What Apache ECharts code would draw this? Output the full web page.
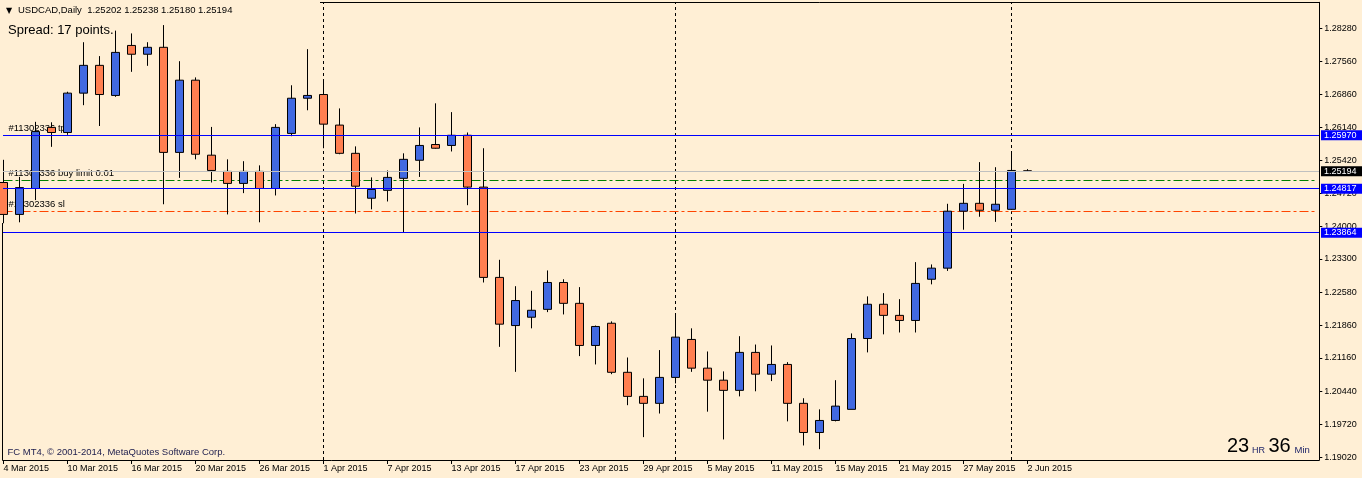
<!DOCTYPE html>
<html>
<head>
    <meta charset="utf-8">
    <title>USDCAD,Daily</title>
    <style type="text/css">
        html,
        body {
            margin: 0;
            padding: 0;
            background: #FFEFD5;
        }

        #main {
            width: 1362px;
            height: 478px;
        }
    </style>
</head>

<body>
    <div id="main"></div>
    <script src="https://cdn.jsdelivr.net/npm/echarts@6/dist/echarts.min.js"></script>
    <script type="text/javascript">
        var symbolName = 'USDCAD';
        var periodName = 'Daily';
        var spreadPoints = 17;
        var orderTicket = '11302336';
        var timerHours = '23';
        var timerMinutes = '36';

        var dates = [
            '4 Mar 2015', '5 Mar 2015', '6 Mar 2015', '9 Mar 2015', '10 Mar 2015', '11 Mar 2015', '12 Mar 2015', '13 Mar 2015',
            '16 Mar 2015', '17 Mar 2015', '18 Mar 2015', '19 Mar 2015', '20 Mar 2015', '23 Mar 2015', '24 Mar 2015', '25 Mar 2015',
            '26 Mar 2015', '27 Mar 2015', '30 Mar 2015', '31 Mar 2015', '1 Apr 2015', '2 Apr 2015', '3 Apr 2015', '6 Apr 2015',
            '7 Apr 2015', '8 Apr 2015', '9 Apr 2015', '10 Apr 2015', '13 Apr 2015', '14 Apr 2015', '15 Apr 2015', '16 Apr 2015',
            '17 Apr 2015', '20 Apr 2015', '21 Apr 2015', '22 Apr 2015', '23 Apr 2015', '24 Apr 2015', '27 Apr 2015', '28 Apr 2015',
            '29 Apr 2015', '30 Apr 2015', '1 May 2015', '4 May 2015', '5 May 2015', '6 May 2015', '7 May 2015', '8 May 2015',
            '11 May 2015', '12 May 2015', '13 May 2015', '14 May 2015', '15 May 2015', '18 May 2015', '19 May 2015', '20 May 2015',
            '21 May 2015', '22 May 2015', '25 May 2015', '26 May 2015', '27 May 2015', '28 May 2015', '29 May 2015', '1 Jun 2015',
            '2 Jun 2015'
        ];
        var opens = [
            1.2495, 1.2426, 1.2482, 1.2614, 1.2603, 1.2688, 1.2748, 1.2683,
            1.2791, 1.2772, 1.2787, 1.2560, 1.2716, 1.2554, 1.2519, 1.2493,
            1.2519, 1.2482, 1.2601, 1.2677, 1.2685, 1.2619, 1.2558, 1.2461,
            1.2478, 1.2504, 1.2543, 1.2577, 1.2575, 1.2597, 1.2485, 1.2290,
            1.2186, 1.2204, 1.2221, 1.2279, 1.2234, 1.2143, 1.2191, 1.2085,
            1.2033, 1.2018, 1.2074, 1.2156, 1.2094, 1.2068, 1.2046, 1.2128,
            1.2081, 1.2102, 1.2018, 1.1955, 1.1981, 1.2005, 1.2158, 1.2232,
            1.2208, 1.2197, 1.2286, 1.2310, 1.2433, 1.2450, 1.2435, 1.2437,
            1.25202
        ];
        var highs = [
            1.2544, 1.2507, 1.2626, 1.2625, 1.2691, 1.2798, 1.2768, 1.2823,
            1.2817, 1.2798, 1.2835, 1.2757, 1.2722, 1.2615, 1.2545, 1.2541,
            1.2532, 1.2621, 1.2705, 1.2783, 1.2716, 1.2655, 1.2573, 1.2506,
            1.2521, 1.2558, 1.2614, 1.2666, 1.2647, 1.2603, 1.2569, 1.2328,
            1.2271, 1.2261, 1.2305, 1.2286, 1.2269, 1.2186, 1.2195, 1.2117,
            1.2072, 1.2133, 1.2210, 1.2180, 1.2130, 1.2087, 1.2163, 1.2145,
            1.2143, 1.2107, 1.2029, 1.2005, 1.2068, 1.2169, 1.2249, 1.2256,
            1.2243, 1.2323, 1.2318, 1.2449, 1.2492, 1.2539, 1.2528, 1.2562,
            1.25238
        ];
        var lows = [
            1.2407, 1.2409, 1.2457, 1.2572, 1.2598, 1.2662, 1.2617, 1.2680,
            1.2734, 1.2747, 1.2448, 1.2505, 1.2545, 1.2495, 1.2426, 1.2472,
            1.2409, 1.2467, 1.2595, 1.2651, 1.2569, 1.2556, 1.2428, 1.2437,
            1.2454, 1.2387, 1.2507, 1.2568, 1.2562, 1.2446, 1.2279, 1.2140,
            1.2086, 1.2180, 1.2215, 1.2210, 1.2120, 1.2102, 1.2081, 1.2014,
            1.1945, 1.1996, 1.2061, 1.2086, 1.2000, 1.1940, 1.2033, 1.2044,
            1.2066, 1.1979, 1.1927, 1.1919, 1.1979, 1.2005, 1.2128, 1.2167,
            1.2171, 1.2171, 1.2275, 1.2304, 1.2393, 1.2421, 1.2410, 1.2436,
            1.25180
        ];
        var closes = [
            1.2426, 1.2484, 1.2605, 1.2603, 1.2688, 1.2748, 1.2685, 1.2776,
            1.2772, 1.2787, 1.2560, 1.2716, 1.2556, 1.2521, 1.2493, 1.2519,
            1.2482, 1.2614, 1.2677, 1.2683, 1.2621, 1.2558, 1.2487, 1.2480,
            1.2506, 1.2545, 1.2575, 1.2569, 1.2597, 1.2485, 1.2290, 1.2189,
            1.2240, 1.2219, 1.2279, 1.2234, 1.2143, 1.2184, 1.2085, 1.2033,
            1.2018, 1.2074, 1.2161, 1.2094, 1.2068, 1.2046, 1.2128, 1.2081,
            1.2102, 1.2018, 1.1955, 1.1981, 1.2012, 1.2158, 1.2232, 1.2208,
            1.2197, 1.2277, 1.2310, 1.2433, 1.2450, 1.2435, 1.2448, 1.2521,
            1.25194
        ];

        var priceTicks = [1.28280, 1.27560, 1.26860, 1.26140, 1.25420, 1.24720, 1.24000,
            1.23300, 1.22580, 1.21860, 1.21160, 1.20440, 1.19720, 1.19020];
        var hLines = [1.25970, 1.24817, 1.23864];
        var bidPrice = 1.25194;
        var tpPrice = 1.25970;
        var limitPrice = 1.25000;
        var slPrice = 1.24330;
        var separatorDates = ['1 Apr 2015', '1 May 2015', '1 Jun 2015'];

        // empty future slots on the right side of the chart
        var futureSlots = 18;

        var categories = dates.slice();
        for (var i = 0; i < futureSlots; i++) categories.push('_' + i);

        var candles = dates.map(function (d, i) {
            return [opens[i], closes[i], lows[i], highs[i]];
        });

        var last = dates.length - 1;
        var headerText = symbolName + ',' + periodName + '  ' +
            [opens[last], highs[last], lows[last], closes[last]].map(function (v) { return v.toFixed(5); }).join(' ');

        function showDate(index) {
            return index % 4 === 0 && index < dates.length;
        }

        function priceLabel(p) {
            return Number(p.value).toFixed(5);
        }

        var FONT = '"Liberation Sans", Arial, sans-serif';
        var CLEAR = 'rgba(0,0,0,0)';

        var myChart = echarts.init(document.getElementById('main'));
        myChart.setOption({
            backgroundColor: '#FFEFD5',
            animation: false,
            textStyle: { fontFamily: FONT },
            grid: {
                left: 3.5,
                right: 46.5,
                top: 2.3,
                bottom: 18,
                show: false
            },
            xAxis: {
                type: 'category',
                data: categories,
                boundaryGap: false,
                axisLine: { show: false },
                axisTick: {
                    show: true,
                    length: 4,
                    interval: showDate,
                    lineStyle: { color: '#000' }
                },
                axisLabel: {
                    interval: showDate,
                    align: 'left',
                    margin: 4,
                    fontSize: 9,
                    color: '#000',
                    fontFamily: FONT
                },
                splitLine: { show: false }
            },
            yAxis: {
                type: 'value',
                position: 'right',
                min: 1.18956,
                max: 1.28842,
                offset: 3.8,
                axisLine: { show: true, lineStyle: { color: '#000' } },
                axisTick: {
                    show: true,
                    length: 3,
                    customValues: priceTicks,
                    lineStyle: { color: '#000' }
                },
                axisLabel: {
                    customValues: priceTicks,
                    margin: 5,
                    fontSize: 9,
                    color: '#000',
                    fontFamily: FONT,
                    formatter: function (v) { return v.toFixed(5); }
                },
                splitLine: { show: false }
            },
            series: [{
                // month separators and order lines, behind the candles
                type: 'line',
                data: [],
                markLine: {
                    z: 1,
                    silent: true,
                    precision: 5,
                    symbol: ['none', 'none'],
                    animation: false,
                    label: {
                        show: true,
                        position: 'insideStartTop',
                        distance: [5, 2],
                        color: '#000',
                        fontSize: 9.5,
                        fontFamily: FONT,
                        formatter: '{b}'
                    },
                    data: separatorDates.map(function (d) {
                        return {
                            xAxis: d,
                            lineStyle: { color: '#000', width: 1, type: [3, 3] },
                            label: { show: false }
                        };
                    }).concat([{
                        name: '#' + orderTicket + ' tp',
                        yAxis: tpPrice,
                        lineStyle: { color: CLEAR, width: 1 }
                    }, {
                        name: '#' + orderTicket + ' buy limit 0.01',
                        yAxis: limitPrice,
                        lineStyle: { color: '#008000', width: 1, type: [9, 3, 3, 3] }
                    }, {
                        name: '#' + orderTicket + ' sl',
                        yAxis: slPrice,
                        lineStyle: { color: '#FF4500', width: 1, type: [9, 3, 3, 3] }
                    }])
                }
            }, {
                type: 'candlestick',
                data: candles,
                barWidth: 9,
                z: 2,
                itemStyle: {
                    color: '#4169E1',
                    color0: '#FF7F50',
                    borderColor: '#000',
                    borderColor0: '#000',
                    borderColorDoji: '#000',
                    borderWidth: 1
                }
            }, {
                // price boxes on the axis for the horizontal lines
                type: 'line',
                data: [],
                markLine: {
                    z: 5,
                    silent: true,
                    precision: 5,
                    symbol: ['none', 'none'],
                    animation: false,
                    lineStyle: { color: CLEAR, width: 1 },
                    label: {
                        show: true,
                        position: 'end',
                        distance: 5.5,
                        color: '#fff',
                        fontSize: 9,
                        fontFamily: FONT,
                        padding: [1, 6, 0, 3],
                        backgroundColor: '#0000FF',
                        formatter: priceLabel
                    },
                    data: [{ yAxis: hLines[0] }, { yAxis: hLines[1] }, { yAxis: hLines[2] }, {
                        yAxis: bidPrice,
                        label: { backgroundColor: '#000' }
                    }]
                }
            }]
        });

        // horizontal lines, placed through the y axis and snapped to whole pixels
        function priceLine(v, color) {
            var y = Math.floor(myChart.convertToPixel({ yAxisIndex: 0 }, v)) + 0.5;
            return {
                type: 'line', silent: true, z: 10,
                shape: { x1: 3, y1: y, x2: 1319, y2: y },
                style: { stroke: color, lineWidth: 1 }
            };
        }

        var elements = [
            { type: 'line', silent: true, shape: { x1: 2.5, y1: 223, x2: 2.5, y2: 460.5 }, style: { stroke: '#000', lineWidth: 1 } },
            { type: 'line', silent: true, shape: { x1: 2.5, y1: 460.5, x2: 1319.5, y2: 460.5 }, style: { stroke: '#000', lineWidth: 1 } },
            { type: 'line', silent: true, shape: { x1: 320, y1: 2.5, x2: 1319.5, y2: 2.5 }, style: { stroke: '#000', lineWidth: 1 } },
            { type: 'text', x: 6, y: 10.5, silent: true, style: { text: '\u25BC', fill: '#000', fontSize: 8, fontFamily: '"DejaVu Sans", sans-serif', align: 'left', verticalAlign: 'middle' } },
            { type: 'text', x: 18, y: 10.7, silent: true, style: { text: headerText, fill: '#000', fontSize: 9.5, fontFamily: FONT, align: 'left', verticalAlign: 'middle' } },
            { type: 'text', x: 8, y: 30.5, silent: true, style: { text: 'Spread: ' + spreadPoints + ' points.', fill: '#000', fontSize: 13, fontFamily: FONT, align: 'left', verticalAlign: 'middle' } },
            { type: 'text', x: 7.5, y: 452, silent: true, style: { text: 'FC MT4, \u00A9 2001-2014, MetaQuotes Software Corp.', fill: '#1C1C4C', fontSize: 9.5, fontFamily: FONT, align: 'left', verticalAlign: 'middle' } },
            { type: 'text', x: 1227, y: 446.5, silent: true, style: { text: timerHours, fill: '#000', fontSize: 20, fontFamily: FONT, align: 'left', verticalAlign: 'middle' } },
            { type: 'text', x: 1252, y: 450.3, silent: true, style: { text: 'HR', fill: '#1E2468', fontSize: 9, fontFamily: FONT, align: 'left', verticalAlign: 'middle' } },
            { type: 'text', x: 1268.5, y: 446.5, silent: true, style: { text: timerMinutes, fill: '#000', fontSize: 20, fontFamily: FONT, align: 'left', verticalAlign: 'middle' } },
            { type: 'text', x: 1294.5, y: 450.3, silent: true, style: { text: 'Min', fill: '#1E2468', fontSize: 9.5, fontFamily: FONT, align: 'left', verticalAlign: 'middle' } }
        ];
        hLines.forEach(function (v) { elements.push(priceLine(v, '#0000FF')); });
        elements.push(priceLine(bidPrice, '#C0C0C0'));

        myChart.setOption({ graphic: elements });
    </script>
</body>

</html>
